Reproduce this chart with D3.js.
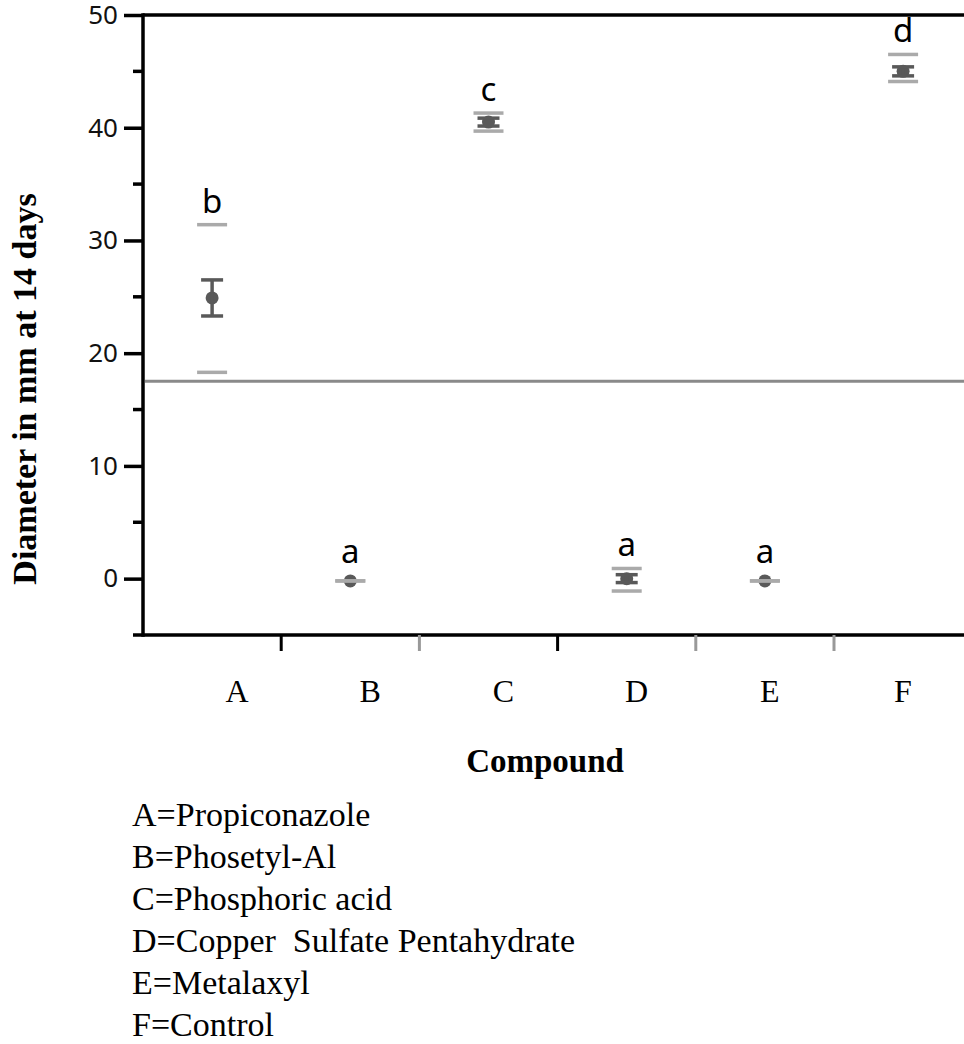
<!DOCTYPE html>
<html>
<head>
<meta charset="utf-8">
<script src="https://cdn.jsdelivr.net/npm/d3@7"></script>
<style>
  html, body { margin: 0; padding: 0; background: #fff; }
  svg { display: block; }
</style>
</head>
<body>
<script>
// chart values
const categories = ['A', 'B', 'C', 'D', 'E', 'F'];
const means = [24.9, -0.2, 40.5, 0.0, -0.2, 45.0];
const stdErr = [1.6, 0, 0.35, 0.35, 0, 0.4];
const ciLow = [18.3, -0.2, 39.7, -1.1, -0.2, 44.1];
const ciHigh = [31.4, -0.2, 41.3, 0.9, -0.2, 46.5];
const groupLetters = ['b', 'a', 'c', 'a', 'a', 'd'];
const grandMean = 17.5;
const yTicks = [0, 10, 20, 30, 40, 50];
const yMinorTicks = [-5, 5, 15, 25, 35, 45];
const legendLines = [
  'A=Propiconazole',
  'B=Phosetyl-Al',
  'C=Phosphoric acid',
  'D=Copper\u00a0\u00a0Sulfate Pentahydrate',
  'E=Metalaxyl',
  'F=Control'
];

const width = 964, height = 1044;
const plotLeft = 143, plotTop = 15, plotBottom = 635, plotRight = 964;

const svg = d3.select('body').append('svg')
  .attr('width', width)
  .attr('height', height);

// scales
const y = d3.scaleLinear().domain([-5, 50]).range([plotBottom, plotTop]);
const x = d3.scaleBand().domain(categories).range([plotLeft, plotLeft + 6 * 138.2]);
const xLabel = d3.scalePoint().domain(categories).range([237, 903]);

// y axis with major and minor ticks
const yAxis = svg.append('g')
  .attr('transform', `translate(${plotLeft},0)`)
  .call(d3.axisLeft(y).tickValues(yTicks).tickSize(19).tickPadding(6));
yAxis.select('.domain').remove();
yAxis.selectAll('.tick line').attr('stroke', '#000').attr('stroke-width', 3.5);
yAxis.selectAll('.tick text')
  .attr('font-family', '"Noto Sans", sans-serif')
  .attr('font-size', 26)
  .attr('fill', '#111');

svg.append('g')
  .attr('transform', `translate(${plotLeft},0)`)
  .selectAll('line')
  .data(yMinorTicks)
  .join('line')
  .attr('x1', -10).attr('x2', 0)
  .attr('y1', d => y(d)).attr('y2', d => y(d))
  .attr('stroke', '#000').attr('stroke-width', 3.5);

// frame: left, top and bottom lines
const frame = svg.append('g').attr('stroke', '#000').attr('stroke-width', 3.5);
frame.append('line').attr('x1', plotLeft).attr('x2', plotLeft).attr('y1', plotTop - 1.75).attr('y2', plotBottom + 1.75);
frame.append('line').attr('x1', plotLeft).attr('x2', plotRight).attr('y1', plotTop).attr('y2', plotTop);
frame.append('line').attr('x1', plotLeft).attr('x2', plotRight).attr('y1', plotBottom).attr('y2', plotBottom);

// x ticks between categories
svg.append('g')
  .selectAll('line')
  .data(categories.slice(1))
  .join('line')
  .attr('x1', d => x(d)).attr('x2', d => x(d))
  .attr('y1', plotBottom).attr('y2', plotBottom + 16)
  .attr('stroke', (d, i) => (i === 0 || i === 2) ? '#000' : '#999')
  .attr('stroke-width', 3);

// x category labels
svg.append('g')
  .selectAll('text')
  .data(categories)
  .join('text')
  .attr('x', d => xLabel(d))
  .attr('y', 702)
  .attr('text-anchor', 'middle')
  .attr('font-family', '"Liberation Serif", "Times New Roman", serif')
  .attr('font-size', 32)
  .text(d => d);

// grand mean line
svg.append('line')
  .attr('x1', plotLeft + 2).attr('x2', plotRight)
  .attr('y1', y(grandMean)).attr('y2', y(grandMean))
  .attr('stroke', '#8a8a8a').attr('stroke-width', 3);

const cx = i => x(categories[i]) + x.bandwidth() / 2;
const rows = categories.map((c, i) => i);

// means
svg.append('g')
  .selectAll('circle')
  .data(rows)
  .join('circle')
  .attr('cx', i => cx(i))
  .attr('cy', i => y(means[i]))
  .attr('r', 6.5)
  .attr('fill', '#595959');

// standard error bars
const se = svg.append('g').attr('stroke', '#595959').attr('stroke-width', 3.5);
rows.filter(i => stdErr[i] > 0).forEach(i => {
  const lo = y(means[i] - stdErr[i]), hi = y(means[i] + stdErr[i]);
  se.append('line').attr('x1', cx(i)).attr('x2', cx(i)).attr('y1', lo).attr('y2', hi);
  se.append('line').attr('x1', cx(i) - 11).attr('x2', cx(i) + 11).attr('y1', lo).attr('y2', lo);
  se.append('line').attr('x1', cx(i) - 11).attr('x2', cx(i) + 11).attr('y1', hi).attr('y2', hi);
});

// confidence lines
const ci = svg.append('g').attr('stroke', '#aaaaaa').attr('stroke-width', 3.5);
rows.forEach(i => {
  [ciLow[i], ciHigh[i]].forEach(v => {
    ci.append('line')
      .attr('x1', cx(i) - 15).attr('x2', cx(i) + 15)
      .attr('y1', y(v)).attr('y2', y(v));
  });
});

// group letters
svg.append('g')
  .selectAll('text')
  .data(rows)
  .join('text')
  .attr('x', i => cx(i))
  .attr('y', i => Math.min(y(ciHigh[i]) - 12, y(means[i]) - 18))
  .attr('text-anchor', 'middle')
  .attr('font-family', '"Noto Sans", sans-serif')
  .attr('font-size', 33)
  .text(i => groupLetters[i]);

// axis titles
svg.append('text')
  .attr('transform', `translate(36,${389}) rotate(-90)`)
  .attr('text-anchor', 'middle')
  .attr('font-family', '"Liberation Serif", "Times New Roman", serif')
  .attr('font-weight', 'bold')
  .attr('font-size', 34)
  .text('Diameter in mm at 14 days');

svg.append('text')
  .attr('x', 545)
  .attr('y', 772)
  .attr('text-anchor', 'middle')
  .attr('font-family', '"Liberation Serif", "Times New Roman", serif')
  .attr('font-weight', 'bold')
  .attr('font-size', 33)
  .text('Compound');

// compound key
svg.append('g')
  .selectAll('text')
  .data(legendLines)
  .join('text')
  .attr('x', 132)
  .attr('y', (d, i) => 826 + i * 42)
  .attr('font-family', '"Liberation Serif", "Times New Roman", serif')
  .attr('font-size', 34)
  .text(d => d);
</script>
</body>
</html>
